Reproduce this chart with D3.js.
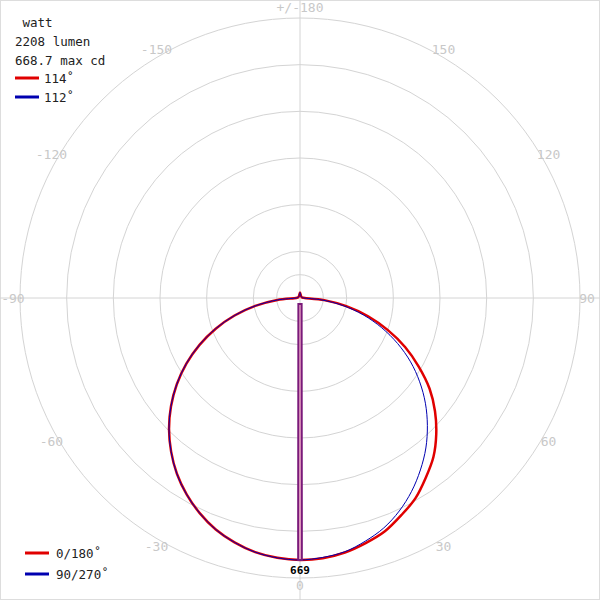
<!DOCTYPE html><html><head><meta charset="utf-8">
<script src="https://cdn.jsdelivr.net/npm/d3@7/dist/d3.min.js"></script>
<style>body{margin:0;background:#fff}text{font-family:"DejaVu Sans Mono",monospace}</style></head><body>
<svg id="c" width="600" height="600"></svg>
<script>
const angles = [0,5,10,15,20,25,30,35,40,45,50,55,60,65,70,75,80,85,90,95,100,110,120,130,140,150,160,170,180];
const redRight = [669,667,660,648,634,612,590,560,530,492,450,404,350,296,238,180,120,62,12,8,6,5,5,5,5,5,6,9,14];
const redLeft  = [669,666,659,646,629,606,579,548,512,473,430,384,335,283,229,173,116,58,10,8,6,5,5,5,5,5,6,9,14];
const blueRight= [669,665,658,643,625,600,570,536,500,460,418,373,326,275,222,168,112,56,10,8,6,5,5,5,5,5,6,9,14];
const blueLeft = [669,666,659,646,629,606,579,548,512,473,430,384,335,283,229,173,116,58,10,8,6,5,5,5,5,5,6,9,14];
const spike = [[0.4,669],[0.45,600],[15,16],[-15,16],[-0.45,600],[-0.4,669]];
const angleLabels = [-150,-120,-90,-60,-30,0,30,60,90,120,150];
const infoLines = [" watt","2208 lumen","668.7 max cd"];
const legendTop = ["114˚","112˚"];
const legendBottom = ["0/180˚","90/270˚"];
const maxCd = 669;

const svg = d3.select("#c");
const cx=300, cy=298;
const r = d3.scaleLinear().domain([0,715]).range([0,280]);
svg.append("rect").attr("x",0.5).attr("y",0.5).attr("width",599).attr("height",599).attr("fill","none").attr("stroke","#ddd");
const g = svg.append("g").attr("transform",`translate(${cx},${cy})`);
const rings=[715/12,715/6,715/3,715/2,715*2/3,715*5/6,715];
rings.forEach(v=>g.append("circle").attr("r",r(v)).attr("fill","none").attr("stroke","#d4d4d4"));
g.append("line").attr("x1",-300).attr("x2",300).attr("stroke","#d4d4d4");
g.append("line").attr("y1",-298).attr("y2",302).attr("stroke","#d4d4d4");
const pt=(a,v)=>{const t=a*Math.PI/180;return [r(v)*Math.sin(t), r(v)*Math.cos(t)];};
angleLabels.forEach(a=>{const [x,y]=pt(a,733);
  g.append("text").attr("x",x).attr("y",y).attr("text-anchor","middle").attr("dy","0.35em").attr("fill","#c8c8c8").attr("font-size",13).text(a);});
svg.append("text").attr("x",300).attr("y",12).attr("text-anchor","middle").attr("fill","#c8c8c8").attr("font-size",13).text("+/-180");
// radial line: angle measured from downward direction
const rl=d3.lineRadial().angle(d=>Math.PI-d[0]*Math.PI/180).radius(d=>r(d[1])).curve(d3.curveCatmullRomClosed);
function plane(right,left){
  const p=[];
  angles.forEach((a,i)=>p.push([a,right[i]]));
  for(let i=angles.length-2;i>0;i--) p.push([-angles[i],left[i]]);
  return p;}
g.append("path").attr("d",rl(plane(redRight,redLeft))).attr("fill","none").attr("stroke","#e00000").attr("stroke-width",2.5);
g.append("path").attr("d",rl(plane(blueRight,blueLeft))).attr("fill","none").attr("stroke","#0000b0").attr("stroke-width",1);
g.append("path").attr("d",d3.line()(spike.map(d=>pt(d[0],d[1])))+"Z").attr("fill","#f0b0c8").attr("stroke","#7a1a7a").attr("stroke-width",2);
g.append("text").attr("x",0).attr("y",r(maxCd)+14).attr("text-anchor","middle").attr("font-weight","bold").attr("font-size",11).attr("font-family","DejaVu Sans").text(maxCd);
infoLines.forEach((t,i)=>svg.append("text").attr("x",15).attr("y",27+i*19).attr("font-size",12.5).attr("fill","#222").attr("xml:space","preserve").text(t));
const cols=["#e00000","#0000b0"];
legendTop.forEach((t,i)=>{svg.append("line").attr("x1",15).attr("x2",39).attr("y1",78+i*19).attr("y2",78+i*19).attr("stroke",cols[i]).attr("stroke-width",3);
  svg.append("text").attr("x",44).attr("y",83+i*19).attr("font-size",12.5).attr("fill","#222").text(t);});
legendBottom.forEach((t,i)=>{svg.append("line").attr("x1",25).attr("x2",49).attr("y1",553+i*21).attr("y2",553+i*21).attr("stroke",cols[i]).attr("stroke-width",3);
  svg.append("text").attr("x",56).attr("y",558+i*21).attr("font-size",12.5).attr("fill","#222").text(t);});
</script></body></html>
